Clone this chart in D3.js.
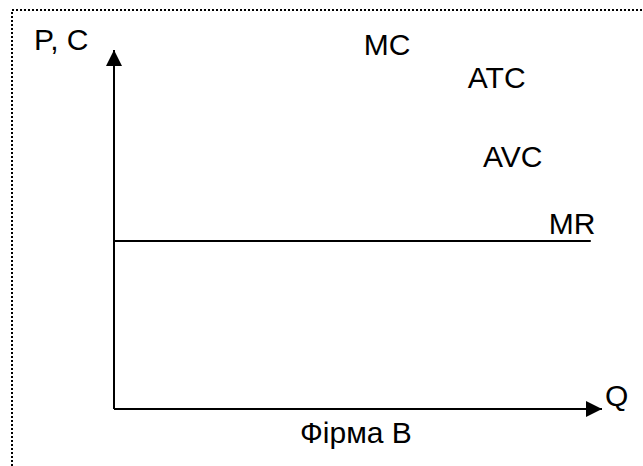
<!DOCTYPE html>
<html>
<head>
<meta charset="utf-8">
<script src="https://cdn.jsdelivr.net/npm/d3@7"></script>
<style>
  body { margin: 0; background: #fff; }
  text { font-family: Arial, "Liberation Sans", sans-serif; fill: #000; }
</style>
</head>
<body>
<svg id="chart" width="643" height="466"></svg>
<script>
// diagram data, in axis units (quantity 0..10, price/cost 0..10)
var axisLabels = ["P, C", "Q"];
var caption = "Фірма В";
var mrLevel = 4.68;        // marginal revenue (price) level
var mrEnd = 9.77;          // quantity where MR line stops
var curveNames = ["MC", "ATC", "AVC", "MR"];
var curveLabelQ = [5.12, 7.25, 7.56, 8.91];
var curveLabelP = [9.86, 8.94, 6.74, 4.88];

var fontSize = 30;

var svg = d3.select("#chart");

var x = d3.scaleLinear().domain([0, 10]).range([114, 602]);
var y = d3.scaleLinear().domain([0, 10]).range([409, 50]);

// dotted frame (runs off the right and bottom edges)
svg.append("rect")
  .attr("x", 12)
  .attr("y", 10)
  .attr("width", 700)
  .attr("height", 520)
  .attr("fill", "none")
  .attr("stroke", "#000")
  .attr("stroke-width", 2)
  .attr("stroke-dasharray", "2,2");

var defs = svg.append("defs");
defs.append("marker")
  .attr("id", "arrow")
  .attr("viewBox", "0 0 16 16")
  .attr("refX", 16)
  .attr("refY", 8)
  .attr("markerWidth", 16)
  .attr("markerHeight", 16)
  .attr("markerUnits", "userSpaceOnUse")
  .attr("orient", "auto")
  .append("path")
  .attr("d", "M0,0 L16,8 L0,16 Z")
  .attr("fill", "#000");

// axes
svg.append("line")
  .attr("x1", x(0)).attr("y1", y(0))
  .attr("x2", x(0)).attr("y2", y(10))
  .attr("stroke", "#000").attr("stroke-width", 2)
  .attr("marker-end", "url(#arrow)");

svg.append("line")
  .attr("x1", x(0)).attr("y1", y(0))
  .attr("x2", x(10)).attr("y2", y(0))
  .attr("stroke", "#000").attr("stroke-width", 2)
  .attr("marker-end", "url(#arrow)");

// MR line
svg.append("line")
  .attr("x1", x(0)).attr("y1", y(mrLevel))
  .attr("x2", x(mrEnd)).attr("y2", y(mrLevel))
  .attr("stroke", "#000").attr("stroke-width", 2);

// curve labels
svg.selectAll(".curve-label")
  .data(curveNames)
  .enter()
  .append("text")
  .attr("class", "curve-label")
  .attr("x", function (d, i) { return x(curveLabelQ[i]); })
  .attr("y", function (d, i) { return y(curveLabelP[i]); })
  .attr("font-size", fontSize)
  .text(function (d) { return d; });

// axis titles
svg.append("text")
  .attr("x", 34).attr("y", 50)
  .attr("font-size", fontSize)
  .text(axisLabels[0]);

svg.append("text")
  .attr("x", x(10) + 3).attr("y", y(0) - 3)
  .attr("font-size", fontSize)
  .text(axisLabels[1]);

svg.append("text")
  .attr("x", 300).attr("y", 443)
  .attr("font-size", fontSize)
  .text(caption);
</script>
</body>
</html>
